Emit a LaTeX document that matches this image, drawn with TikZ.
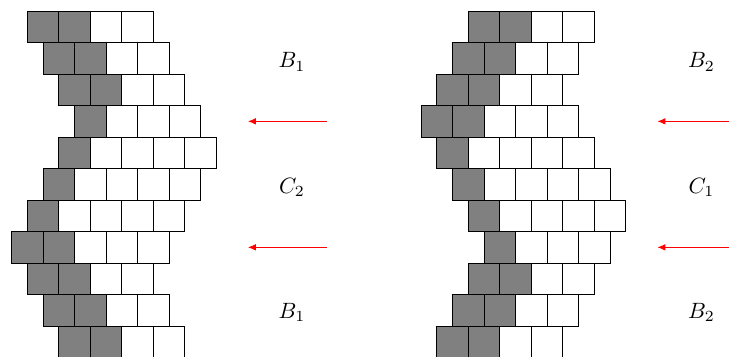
\documentclass[tikz,border=0pt]{standalone}
\usetikzlibrary{arrows.meta}
\begin{document}
\begin{tikzpicture}[x=0.5cm,y=0.5cm,
  cell/.style={draw=black,line width=0.4pt},
  lbl/.style={inner sep=0pt},
  pusharrow/.style={draw=red,line width=0.4pt,-{Latex[length=3.6pt,width=3pt]}}]
\useasboundingbox (0,0) rectangle (23.143,11.302);
\begin{scope}
\clip (-1,-1) rectangle (25,10.925);
% left stack: row / offset (half squares) / grey cells / total cells
\foreach \r/\o/\g/\t in {0/1/2/4,1/2/2/4,2/3/2/4,3/4/1/4,4/3/1/5,5/2/1/5,6/1/1/5,7/0/2/5,8/1/2/4,9/2/2/4,10/3/2/4}{
  \foreach \k in {1,...,\t}{
    \ifnum\k>\g \def\cc{white}\else\def\cc{gray}\fi
    \draw[cell,fill=\cc] ({0.371+0.5*\o+\k-1},{10.95-\r}) rectangle ++(1,-1);
  }
}
% right stack
\foreach \r/\o/\g/\t in {0/3/2/4,1/2/2/4,2/1/2/4,3/0/2/5,4/1/1/5,5/2/1/5,6/3/1/5,7/4/1/4,8/3/2/4,9/2/2/4,10/1/2/4}{
  \foreach \k in {1,...,\t}{
    \ifnum\k>\g \def\cc{white}\else\def\cc{gray}\fi
    \draw[cell,fill=\cc] ({13.371+0.5*\o+\k-1},{10.95-\r}) rectangle ++(1,-1);
  }
}
\end{scope}
% labels
\node[lbl] (lb1) at (9.27,9.34) {$B_1$};
\node[lbl] (lc2) at (9.27,5.36) {$C_2$};
\node[lbl] (lb3) at (9.27,1.38) {$B_1$};
\node[lbl] (rb1) at (22.27,9.34) {$B_2$};
\node[lbl] (rc1) at (22.27,5.36) {$C_1$};
\node[lbl] (rb3) at (22.27,1.38) {$B_2$};
% arrows
\coordinate (la1s) at (10.371,7.45);
\coordinate (la1e) at (7.871,7.45);
\coordinate (la2s) at (10.371,3.45);
\coordinate (la2e) at (7.871,3.45);
\coordinate (ra1s) at (23.371,7.45);
\coordinate (ra1e) at (20.871,7.45);
\coordinate (ra2s) at (23.371,3.45);
\coordinate (ra2e) at (20.871,3.45);
\draw[pusharrow] (la1s) -- (la1e);
\draw[pusharrow] (la2s) -- (la2e);
\draw[pusharrow] (ra1s) -- (ra1e);
\draw[pusharrow] (ra2s) -- (ra2e);
\end{tikzpicture}
\end{document}
